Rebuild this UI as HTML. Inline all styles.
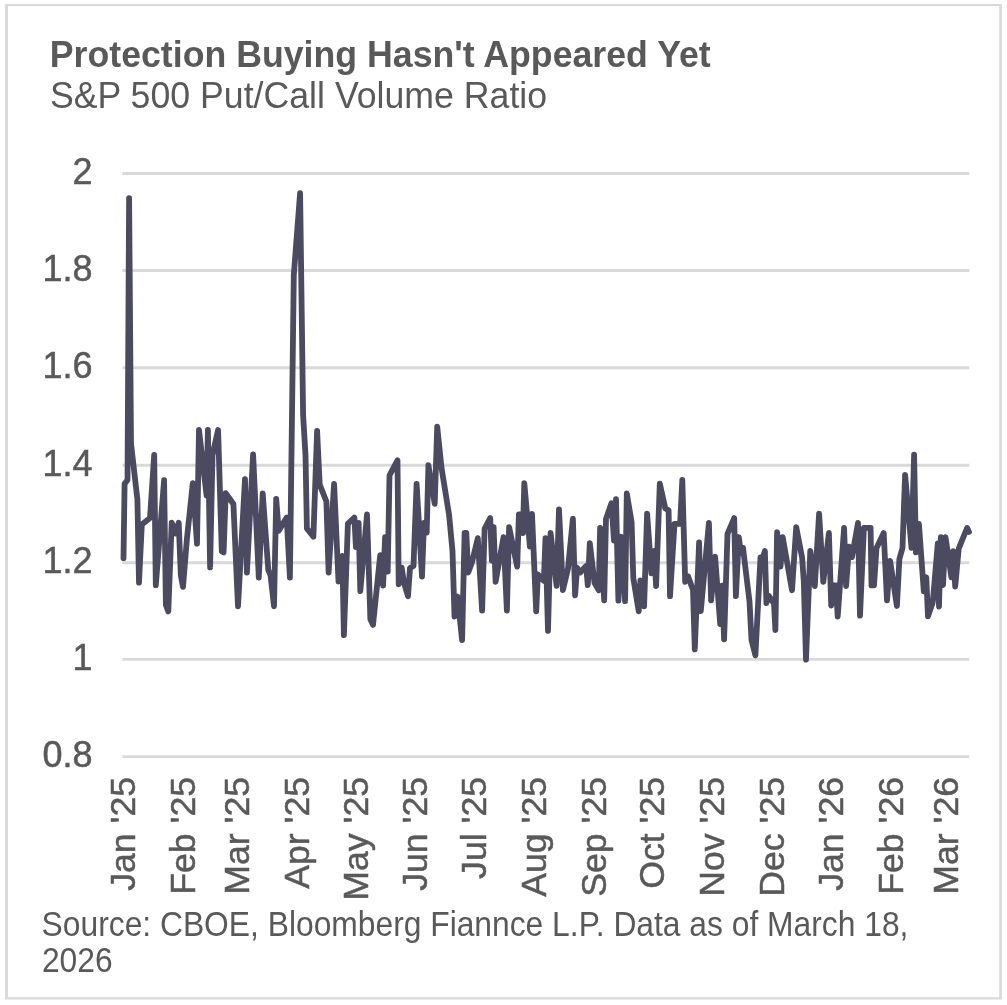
<!DOCTYPE html>
<html lang="en"><head><meta charset="utf-8"><title>Protection Buying Hasn't Appeared Yet</title>
<style>html,body{margin:0;padding:0;background:#fff}body{width:1007px;height:1005px;overflow:hidden}svg{display:block;will-change:transform}text{font-family:"Liberation Sans",sans-serif;fill:#595959}</style></head><body>
<svg width="1007" height="1005" viewBox="0 0 1007 1005">
<rect x="0" y="0" width="1007" height="1005" fill="#ffffff"/>
<path fill="#d9d9d9" fill-rule="evenodd" d="M5.1 3.9H1001.2Q1001.9 3.9 1001.9 4.6V998.9Q1001.9 999.6 1001.2 999.6H5.1Z M8.05 6H999.2V997.2H8.05Z"/>
<text transform="translate(49.8 67.0) scale(1 1.02)" font-size="35.7" font-weight="bold">Protection Buying Hasn't Appeared Yet</text>
<text transform="translate(49.9 107.5) scale(1 1.015)" font-size="35.7">S&amp;P 500 Put/Call Volume Ratio</text>
<line x1="122.4" x2="969.3" y1="173.45" y2="173.45" stroke="#d9d9d9" stroke-width="2.9"/>
<line x1="122.4" x2="969.3" y1="270.50" y2="270.50" stroke="#d9d9d9" stroke-width="2.9"/>
<line x1="122.4" x2="969.3" y1="367.80" y2="367.80" stroke="#d9d9d9" stroke-width="2.9"/>
<line x1="122.4" x2="969.3" y1="465.30" y2="465.30" stroke="#d9d9d9" stroke-width="2.9"/>
<line x1="122.4" x2="969.3" y1="562.70" y2="562.70" stroke="#d9d9d9" stroke-width="2.9"/>
<line x1="122.4" x2="969.3" y1="659.40" y2="659.40" stroke="#d9d9d9" stroke-width="2.9"/>
<line x1="122.4" x2="969.3" y1="756.60" y2="756.60" stroke="#d9d9d9" stroke-width="2.9"/>
<text x="92.5" y="183.90" font-size="36" text-anchor="end" stroke="#595959" stroke-width="0.5">2</text>
<text x="92.5" y="281.15" font-size="36" text-anchor="end" stroke="#595959" stroke-width="0.5">1.8</text>
<text x="92.5" y="378.40" font-size="36" text-anchor="end" stroke="#595959" stroke-width="0.5">1.6</text>
<text x="92.5" y="475.65" font-size="36" text-anchor="end" stroke="#595959" stroke-width="0.5">1.4</text>
<text x="92.5" y="572.90" font-size="36" text-anchor="end" stroke="#595959" stroke-width="0.5">1.2</text>
<text x="92.5" y="670.15" font-size="36" text-anchor="end" stroke="#595959" stroke-width="0.5">1</text>
<text x="92.5" y="767.40" font-size="36" text-anchor="end" stroke="#595959" stroke-width="0.5">0.8</text>
<text transform="translate(135.4 776.9) rotate(-90)" font-size="35.7" text-anchor="end" stroke="#595959" stroke-width="0.5">Jan '25</text>
<text transform="translate(195.0 776.9) rotate(-90)" font-size="35.7" text-anchor="end" stroke="#595959" stroke-width="0.5">Feb '25</text>
<text transform="translate(248.6 776.9) rotate(-90)" font-size="35.7" text-anchor="end" stroke="#595959" stroke-width="0.5">Mar '25</text>
<text transform="translate(309.1 776.9) rotate(-90)" font-size="35.7" text-anchor="end" stroke="#595959" stroke-width="0.5">Apr '25</text>
<text transform="translate(367.8 776.9) rotate(-90)" font-size="35.7" text-anchor="end" stroke="#595959" stroke-width="0.5">May '25</text>
<text transform="translate(427.4 776.9) rotate(-90)" font-size="35.7" text-anchor="end" stroke="#595959" stroke-width="0.5">Jun '25</text>
<text transform="translate(486.1 776.9) rotate(-90)" font-size="35.7" text-anchor="end" stroke="#595959" stroke-width="0.5">Jul '25</text>
<text transform="translate(545.7 776.9) rotate(-90)" font-size="35.7" text-anchor="end" stroke="#595959" stroke-width="0.5">Aug '25</text>
<text transform="translate(606.1 776.9) rotate(-90)" font-size="35.7" text-anchor="end" stroke="#595959" stroke-width="0.5">Sep '25</text>
<text transform="translate(663.9 776.9) rotate(-90)" font-size="35.7" text-anchor="end" stroke="#595959" stroke-width="0.5">Oct '25</text>
<text transform="translate(724.2 776.9) rotate(-90)" font-size="35.7" text-anchor="end" stroke="#595959" stroke-width="0.5">Nov '25</text>
<text transform="translate(784.2 776.9) rotate(-90)" font-size="35.7" text-anchor="end" stroke="#595959" stroke-width="0.5">Dec '25</text>
<text transform="translate(843.4 776.9) rotate(-90)" font-size="35.7" text-anchor="end" stroke="#595959" stroke-width="0.5">Jan '26</text>
<text transform="translate(903.3 776.9) rotate(-90)" font-size="35.7" text-anchor="end" stroke="#595959" stroke-width="0.5">Feb '26</text>
<text transform="translate(957.9 776.9) rotate(-90)" font-size="35.7" text-anchor="end" stroke="#595959" stroke-width="0.5">Mar '26</text>
<path d="M123.5 558.2 L124.6 483.7 L127.5 480.0 L129.1 198.1 L131.0 443.5 L137.4 499.5 L139.0 582.6 L141.8 524.5 L150.0 518.0 L154.2 455.0 L155.8 585.2 L164.1 480.2 L165.9 604.9 L168.3 611.4 L171.7 522.7 L175.4 533.6 L178.7 522.7 L180.8 575.0 L183.0 586.9 L186.9 539.0 L192.8 483.2 L197.0 543.7 L199.0 430.0 L206.6 495.6 L207.9 430.0 L210.1 567.4 L212.5 455.0 L218.1 430.0 L221.8 551.5 L223.6 552.4 L225.7 493.2 L233.4 504.0 L238.0 606.3 L245.0 479.2 L246.9 572.5 L253.1 454.4 L258.8 577.6 L262.7 493.4 L268.3 570.0 L270.5 575.0 L274.0 606.3 L276.2 499.0 L278.7 530.8 L286.7 517.6 L289.9 577.6 L293.8 275.0 L300.1 193.2 L303.1 415.0 L305.5 455.0 L306.9 528.5 L313.4 536.8 L317.1 431.0 L319.7 484.6 L326.4 501.5 L328.6 572.5 L334.1 483.8 L338.5 581.6 L342.3 555.9 L343.9 635.1 L347.9 523.7 L354.4 517.7 L355.9 547.1 L358.6 522.9 L360.3 591.1 L367.0 514.4 L370.4 619.3 L373.0 624.9 L380.2 555.2 L383.1 585.6 L385.1 537.2 L387.7 571.6 L389.5 475.3 L397.5 460.4 L398.7 584.3 L401.7 567.7 L404.0 583.0 L408.0 596.2 L410.0 568.0 L413.5 566.0 L416.6 483.8 L422.0 576.7 L424.0 522.9 L426.7 532.6 L428.4 465.2 L434.7 503.8 L437.2 426.6 L441.5 467.7 L449.1 515.0 L452.5 551.0 L454.5 616.6 L457.5 596.5 L462.1 640.1 L464.6 533.0 L466.3 533.0 L468.2 572.5 L471.9 562.6 L477.8 538.1 L482.1 610.6 L484.6 528.8 L490.2 518.1 L491.9 560.6 L493.6 527.2 L495.6 581.8 L503.5 537.2 L506.9 610.6 L509.1 527.1 L517.2 566.6 L518.9 514.5 L520.8 514.5 L522.9 533.1 L524.3 483.2 L529.9 546.6 L532.0 513.8 L536.2 611.4 L537.9 574.5 L543.8 580.9 L545.5 538.1 L548.0 630.8 L550.6 533.0 L556.6 585.8 L559.0 509.4 L562.9 590.2 L568.0 568.5 L572.9 518.7 L575.1 595.3 L577.1 567.7 L580.2 572.5 L586.1 566.0 L587.8 585.2 L589.8 543.2 L594.5 582.9 L598.8 590.2 L600.1 528.0 L604.2 600.4 L606.0 518.9 L611.5 503.2 L614.0 540.6 L616.0 499.2 L618.4 600.6 L620.9 536.7 L625.1 601.2 L626.8 493.5 L631.6 522.0 L633.3 578.0 L638.7 611.4 L640.4 580.4 L644.1 606.3 L647.1 513.7 L651.4 573.3 L654.2 550.8 L656.1 586.0 L659.8 483.7 L665.3 508.5 L668.6 510.3 L670.0 596.2 L674.5 523.9 L680.1 523.9 L682.3 479.9 L685.2 581.8 L688.0 576.2 L693.0 590.0 L694.8 649.4 L699.1 542.3 L700.8 611.1 L708.9 522.9 L711.1 600.4 L715.1 556.7 L720.2 624.1 L722.1 585.7 L724.1 639.3 L727.5 533.8 L734.2 518.1 L735.9 596.2 L738.8 537.2 L740.9 553.1 L743.0 547.7 L746.4 576.0 L749.5 601.5 L751.5 640.0 L755.4 655.4 L760.5 557.5 L762.7 558.0 L764.9 551.0 L766.4 603.1 L768.7 595.7 L774.0 603.5 L775.4 630.0 L777.1 532.2 L780.5 566.6 L782.7 537.2 L792.0 590.2 L796.2 527.1 L802.1 557.5 L803.8 581.2 L806.0 659.6 L810.3 550.8 L814.8 586.0 L819.1 513.7 L823.3 581.8 L828.9 533.0 L831.2 605.5 L833.4 585.4 L836.0 585.4 L837.7 616.6 L844.1 528.0 L846.1 586.0 L849.0 546.7 L852.0 557.1 L858.0 522.9 L860.0 615.6 L863.9 527.9 L870.6 527.9 L871.5 585.4 L874.0 585.4 L876.5 548.0 L883.7 533.0 L887.0 600.4 L890.1 560.9 L896.9 606.0 L899.4 559.0 L902.5 548.0 L905.1 474.8 L911.5 547.8 L914.1 454.6 L915.9 552.4 L918.9 523.8 L923.8 591.3 L926.3 577.3 L928.0 616.4 L932.8 602.0 L937.8 543.4 L939.0 606.5 L940.9 537.2 L943.0 585.1 L945.5 537.2 L951.4 577.4 L953.2 551.1 L955.2 586.6 L958.7 548.7 L967.1 528.0 L969.0 532.0" fill="none" stroke="#4c4a61" stroke-width="5.8" stroke-linejoin="round" stroke-linecap="round"/>
<text transform="translate(41.6 936.2) scale(1 1.08)" font-size="31.8">Source: CBOE, Bloomberg Fiannce L.P. Data as of March 18,</text>
<text transform="translate(41.9 972.1) scale(1 1.08)" font-size="31.8">2026</text>
</svg></body></html>
